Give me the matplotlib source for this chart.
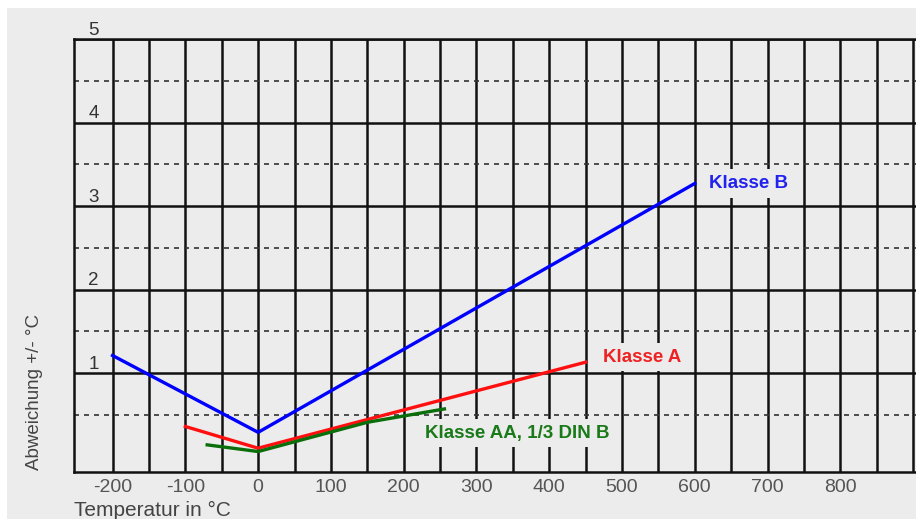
import numpy as np
import matplotlib
matplotlib.use("Agg")
import matplotlib.pyplot as plt
from matplotlib.patches import Rectangle

plt.rcParams['font.family'] = ['Liberation Sans', 'DejaVu Sans']

# Toleranzkurven
t_b = [-200, 0, 600]
dev_b = [1.21, 0.29, 3.27]
t_a = [-100, 0, 450]
dev_a = [0.36, 0.10, 1.13]
t_aa = [-70, 0, 150, 256]
dev_aa = [0.14, 0.06, 0.41, 0.57]

xticks = [-200, -100, 0, 100, 200, 300, 400, 500, 600, 700, 800]
vlines = list(range(-200, 901, 50))
ylevels = [1, 2, 3, 4, 5]
ydashed = [0.5, 1.5, 2.5, 3.5, 4.5]

bg = '#ececec'
fig = plt.figure(figsize=(9.16, 5.19), dpi=100, facecolor=bg)
# weisser Rand oben/links
fig.patches.append(Rectangle((0, 1 - 8 / 519), 1, 8 / 519, transform=fig.transFigure,
                             facecolor='white', edgecolor='none', zorder=-10))
fig.patches.append(Rectangle((0, 0), 7 / 916, 1, transform=fig.transFigure,
                             facecolor='white', edgecolor='none', zorder=-10))

ax = fig.add_axes([74 / 916, 1 - 472 / 519, 1 - 74 / 916, (472 - 39) / 519])
ax.set_facecolor(bg)
ax.set_xlim(-253, 904)
ax.set_ylim(-0.185, 5)

for x in vlines:
    ax.axvline(x, color='#111111', lw=1.8, zorder=1)
for y in ylevels:
    ax.axhline(y, color='#111111', lw=1.8, zorder=1)
for y in ydashed:
    ax.axhline(y, color='#333333', lw=1.2, ls=(0, (3, 3)), zorder=1)

ax.plot(t_b, dev_b, color='#0000ff', lw=2.4, zorder=4)
ax.plot(t_a, dev_a, color='#ff1010', lw=2.4, zorder=4)
ax.plot(t_aa, dev_aa, color='#0a6e0a', lw=2.4, zorder=4)

box = dict(facecolor=bg, edgecolor='none', pad=4)
ax.text(620, 3.27, 'Klasse B', color='#2222ee', fontsize=13.5, fontweight='bold',
        ha='left', va='center', bbox=box, zorder=3)
ax.text(474, 1.19, 'Klasse A', color='#ee2222', fontsize=13.5, fontweight='bold',
        ha='left', va='center', bbox=box, zorder=3)
ax.text(229, 0.28, 'Klasse AA, 1/3 DIN B', color='#1a7a1a', fontsize=13.5,
        fontweight='bold', ha='left', va='center', bbox=box, zorder=3)

for y in ylevels:
    ax.text(-226, y + 0.05, str(y), color='#333333', fontsize=13.5,
            ha='center', va='baseline', zorder=3)

ax.set_xticks(xticks)
ax.set_xticklabels([str(x) for x in xticks], fontsize=14, color='#555555')
ax.set_yticks([])
ax.tick_params(axis='x', length=0, pad=5)

for side in ['left', 'bottom', 'top']:
    ax.spines[side].set_color('#111111')
    ax.spines[side].set_linewidth(1.8)
ax.spines['right'].set_visible(False)

fig.text(35 / 916, 1 - 392 / 519, 'Abweichung +/- °C', rotation=90, fontsize=13.5,
         color='#444444', ha='center', va='center')
fig.text(74 / 916, 3 / 519, 'Temperatur in °C', fontsize=15, color='#444444',
         ha='left', va='baseline')

fig.savefig('out.png', dpi=100, facecolor=bg)
